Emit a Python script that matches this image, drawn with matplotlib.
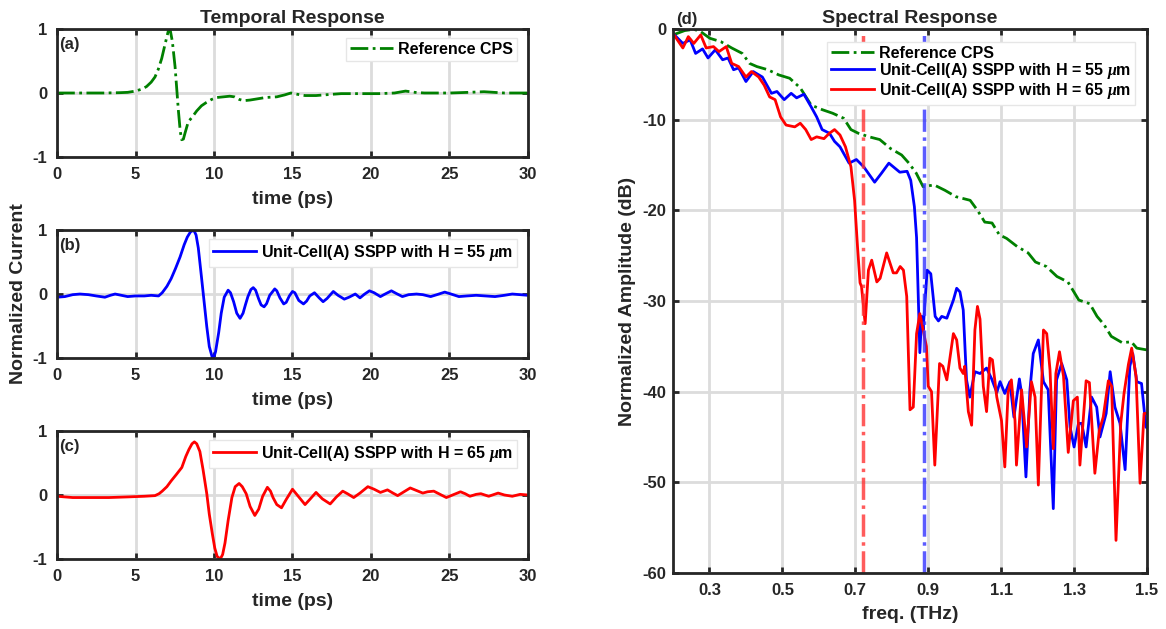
import numpy as np
import matplotlib
matplotlib.use('Agg')
import matplotlib.pyplot as plt

plt.rcParams['font.family'] = ['Liberation Sans', 'DejaVu Sans']
plt.rcParams['font.weight'] = 'bold'
plt.rcParams['axes.unicode_minus'] = False
plt.rcParams['mathtext.fontset'] = 'custom'
plt.rcParams['mathtext.it'] = 'Liberation Serif:italic:bold'

# ---- temporal data ----
t_ref = [0, 1, 2, 3, 4, 4.5, 5, 5.4, 5.7, 6.0, 6.24, 6.45, 6.67, 6.9, 7.09, 7.2, 7.35, 7.52, 7.73, 7.85,
         7.94, 8.05, 8.15, 8.36, 8.6, 8.9, 9.2, 9.5, 9.85, 10.2, 10.6, 11.0, 11.3, 11.6, 11.9, 12.3, 12.8,
         13.3, 14.0, 14.5, 14.9, 15.3, 15.8, 16.5, 17, 18.1, 19.2, 20.5, 21.5, 22.2, 22.8, 23.4, 25, 26.2,
         27.2, 28.5, 30]
i_ref = [0, 0, 0, 0, 0.005, 0.01, 0.03, 0.06, 0.1, 0.17, 0.25, 0.37, 0.54, 0.78, 0.97, 1.0, 0.8, 0.41, -0.27, -0.6,
         -0.73, -0.72, -0.63, -0.45, -0.38, -0.28, -0.2, -0.15, -0.1, -0.07, -0.06, -0.05, -0.06, -0.1, -0.12, -0.11, -0.09,
         -0.07, -0.06, -0.03, 0.0, -0.02, -0.04, -0.04, -0.03, -0.01, -0.01, -0.01, 0.0, 0.03, 0.01, 0.0, 0.0, 0.01,
         0.02, 0.0, 0.0]

t_55 = [0, 0.5, 1.0, 1.46, 2.0, 2.5, 3.05, 3.4, 3.7, 4.1, 4.5, 5.0, 5.56, 6.0, 6.47, 6.7, 7.0, 7.27, 7.55,
        7.84, 8.1, 8.3, 8.5, 8.63, 8.75, 8.86, 9.0, 9.2, 9.37, 9.54, 9.7, 9.89, 10.0, 10.1, 10.3, 10.46,
        10.65, 10.9, 11.05, 11.25, 11.45, 11.66, 11.85, 12.0, 12.16, 12.35, 12.5, 12.65, 12.85, 13.0, 13.19,
        13.35, 13.55, 13.87, 14.0, 14.2, 14.44, 14.6, 14.8, 15.0, 15.15, 15.4, 15.7, 15.9, 16.1, 16.4, 16.7,
        16.95, 17.2, 17.6, 17.9, 18.3, 18.6, 19.0, 19.3, 19.6, 19.9, 20.2, 20.6, 20.9, 21.3, 21.6, 22.0,
        22.4, 22.9, 23.3, 23.8, 24.2, 24.7, 25.1, 25.6, 26.1, 26.7, 27.3, 27.9, 28.5, 29.0, 29.5, 30]
i_55 = [-0.05, -0.04, -0.01, 0.0, -0.01, -0.03, -0.05, -0.02, 0.0, -0.02, -0.04, -0.03, -0.03, -0.02, -0.03, 0.02,
        0.12, 0.24, 0.4, 0.58, 0.77, 0.89, 0.97, 0.99, 0.98, 0.92, 0.72, 0.27, -0.12, -0.51, -0.82, -0.99, -0.98,
        -0.9, -0.6, -0.3, -0.05, 0.06, 0.02, -0.12, -0.3, -0.38, -0.3, -0.17, -0.04, 0.07, 0.1, 0.06, -0.08,
        -0.17, -0.2, -0.15, -0.02, 0.08, 0.05, -0.06, -0.155, -0.13, -0.03, 0.04, 0.02, -0.1, -0.155, -0.11,
        -0.03, 0.02, -0.06, -0.12, -0.07, 0.04, -0.02, -0.08, -0.05, 0.0, -0.06, 0.0, 0.05, 0.02, -0.04, 0.0,
        0.05, 0.01, -0.04, -0.01, 0.0, -0.01, -0.04, -0.01, 0.03, 0.0, -0.04, -0.03, -0.02, -0.03, -0.04, -0.02,
        0.0, -0.01, -0.02]

t_65 = [0, 0.5, 1.0, 2.0, 3.3, 4.5, 5.56, 6.24, 6.5, 6.7, 7.0, 7.27, 7.6, 7.95, 8.2, 8.4, 8.6, 8.75, 8.9,
        9.1, 9.3, 9.54, 9.7, 9.89, 10.05, 10.2, 10.4, 10.55, 10.7, 10.9, 11.14, 11.35, 11.6, 11.8, 12.05,
        12.3, 12.6, 12.85, 13.1, 13.4, 13.6, 13.76, 14.0, 14.3, 14.6, 15.0, 15.3, 15.8, 16.1, 16.5, 16.9,
        17.4, 17.8, 18.2, 18.5, 18.9, 19.3, 19.8, 20.2, 20.6, 21.05, 21.4, 21.7, 22.1, 22.5, 22.9, 23.3,
        23.6, 24.0, 24.4, 24.8, 25.2, 25.7, 26.0, 26.3, 26.7, 27.0, 27.5, 28.1, 28.5, 29.0, 29.5, 30]
i_65 = [-0.02, -0.03, -0.04, -0.04, -0.04, -0.03, -0.02, -0.01, 0.02, 0.06, 0.13, 0.22, 0.32, 0.43, 0.6, 0.71,
        0.8, 0.83, 0.8, 0.68, 0.4, 0.02, -0.3, -0.6, -0.83, -0.96, -1.0, -0.93, -0.75, -0.4, -0.04, 0.13, 0.18,
        0.13, 0.02, -0.18, -0.32, -0.22, -0.02, 0.12, 0.06, -0.04, -0.15, -0.2, -0.07, 0.09, 0.0, -0.15, -0.07,
        0.04, -0.06, -0.14, -0.03, 0.06, 0.02, -0.04, 0.03, 0.13, 0.09, 0.04, 0.08, 0.03, -0.01, 0.05, 0.11,
        0.07, 0.03, 0.05, 0.06, 0.01, -0.04, 0.0, 0.05, 0.02, -0.02, 0.01, 0.02, -0.02, 0.03, 0.0, -0.02, 0.01, 0.0]

# ---- spectral data ----
f_ref = [0.2, 0.232, 0.257, 0.276, 0.301, 0.331, 0.361, 0.39, 0.41, 0.43, 0.46, 0.49, 0.52, 0.549, 0.579,
         0.609, 0.638, 0.668, 0.688, 0.708, 0.738, 0.767, 0.797, 0.827, 0.847, 0.867, 0.886, 0.916, 0.946,
         0.976, 1.015, 1.035, 1.055, 1.075, 1.095, 1.115, 1.144, 1.174, 1.194, 1.224, 1.253, 1.283, 1.313,
         1.343, 1.363, 1.382, 1.402, 1.432, 1.457, 1.472, 1.5]
a_ref = [-0.66, -0.18, -0.04, -0.3, -1.03, -1.4, -2.1, -2.7, -3.8, -4.15, -4.5, -5.07, -5.44, -6.5, -8.4,
         -8.9, -9.3, -9.85, -11.1, -11.5, -11.9, -12.2, -13.2, -13.9, -14.8, -15.9, -17.4, -17.2, -17.8,
         -18.5, -18.9, -20.0, -21.3, -21.4, -22.7, -23.1, -24.0, -24.7, -25.7, -26.2, -27.3, -27.9, -29.9,
         -30.3, -31.7, -32.6, -33.9, -34.6, -34.5, -35.2, -35.4]

f_55 = [0.2, 0.227, 0.247, 0.262, 0.281, 0.296, 0.316, 0.336, 0.351, 0.366, 0.38, 0.4, 0.42, 0.445, 0.47,
        0.485, 0.505, 0.524, 0.539, 0.559, 0.579, 0.594, 0.609, 0.629, 0.643, 0.658, 0.683, 0.703, 0.723,
        0.753, 0.772, 0.792, 0.822, 0.842, 0.852, 0.862, 0.868, 0.873, 0.877, 0.882, 0.886, 0.897, 0.907,
        0.919, 0.928, 0.937, 0.951, 0.969, 0.978, 0.987, 0.996, 1.005, 1.014, 1.028, 1.042, 1.06, 1.074,
        1.088, 1.097, 1.11, 1.124, 1.135, 1.15, 1.156, 1.168, 1.179, 1.188, 1.202, 1.216, 1.229, 1.243,
        1.252, 1.266, 1.28, 1.289, 1.3, 1.312, 1.321, 1.333, 1.348, 1.362, 1.371, 1.388, 1.399, 1.412,
        1.426, 1.44, 1.453, 1.461, 1.472, 1.485, 1.497, 1.5]
a_55 = [-0.5, -1.6, -1.2, -2.7, -2.2, -3.2, -2.3, -3.4, -3.2, -4.5, -4.3, -5.8, -4.7, -5.3, -7.1,
        -6.9, -7.8, -7.1, -7.6, -7.2, -8.6, -9.7, -11.1, -11.5, -12.4, -13.0, -14.8, -14.4, -15.2,
        -16.9, -15.9, -14.8, -15.8, -15.7, -16.7, -19.6, -23.0, -30.0, -35.7, -31.7, -33.2, -26.6, -27.0,
        -31.7, -32.2, -31.7, -31.9, -29.9, -28.6, -29.0, -31.0, -38.7, -40.6, -37.8, -38.0, -37.4, -38.6,
        -40.1, -38.9, -40.2, -38.9, -42.8, -38.6, -40.2, -49.4, -39.8, -35.8, -34.3, -38.9, -39.8, -52.9,
        -38.7, -36.9, -38.7, -43.9, -46.1, -43.5, -43.5, -46.1, -40.6, -41.7, -45.0, -42.4, -37.8, -41.7,
        -43.5, -48.6, -37.2, -35.8, -38.9, -39.1, -43.9, -44.0]

f_65 = [0.2, 0.227, 0.242, 0.257, 0.276, 0.291, 0.311, 0.326, 0.346, 0.361, 0.38, 0.4, 0.415, 0.435, 0.45,
        0.465, 0.48, 0.495, 0.51, 0.534, 0.549, 0.564, 0.579, 0.594, 0.614, 0.629, 0.643, 0.658, 0.673,
        0.688, 0.698, 0.706, 0.713, 0.717, 0.727, 0.736, 0.745, 0.759, 0.768, 0.786, 0.804, 0.813, 0.823,
        0.832, 0.841, 0.85, 0.859, 0.868, 0.877, 0.886, 0.895, 0.9, 0.909, 0.918, 0.931, 0.94, 0.951,
        0.969, 0.978, 0.987, 0.996, 1.0, 1.01, 1.019, 1.028, 1.035, 1.042, 1.051, 1.06, 1.069, 1.076,
        1.088, 1.101, 1.11, 1.119, 1.128, 1.138, 1.142, 1.156, 1.17, 1.183, 1.193, 1.202, 1.216, 1.225,
        1.234, 1.243, 1.25, 1.26, 1.271, 1.284, 1.298, 1.309, 1.316, 1.333, 1.342, 1.357, 1.369, 1.38,
        1.394, 1.403, 1.415, 1.428, 1.437, 1.449, 1.458, 1.47, 1.481, 1.492, 1.5]
a_65 = [-0.5, -2.1, -0.85, -1.6, -0.66, -2.1, -1.95, -2.5, -1.95, -3.8, -4.15, -5.3, -4.7, -5.3, -6.2,
        -7.5, -7.8, -9.7, -10.6, -10.8, -10.4, -11.1, -12.2, -11.9, -12.1, -11.5, -11.1, -11.7, -13.0,
        -15.2, -18.9, -24.0, -28.0, -28.4, -32.5, -26.6, -25.5, -27.9, -27.5, -24.7, -26.9, -26.9, -26.2,
        -26.6, -29.5, -42.0, -41.7, -33.6, -31.4, -33.2, -35.0, -39.4, -40.0, -48.1, -36.9, -37.2, -38.7,
        -33.6, -34.3, -37.4, -38.0, -37.2, -42.2, -43.7, -33.2, -30.6, -32.0, -39.4, -42.2, -36.3, -36.5,
        -40.6, -43.2, -48.3, -40.1, -38.7, -43.2, -48.1, -39.8, -46.1, -38.9, -40.6, -50.3, -33.2, -33.6,
        -37.6, -46.3, -38.0, -35.6, -38.3, -46.7, -41.0, -40.6, -48.1, -38.8, -39.0, -49.0, -44.3, -42.8,
        -38.8, -39.4, -56.4, -43.5, -40.2, -37.0, -35.2, -38.3, -50.1, -42.4, -42.4]

cutoff_freqs = [0.722, 0.888]
cutoff_colors = ['#ff3333', '#3333ff']

labels = ['Reference CPS', r'Unit-Cell(A) SSPP with H = 55 $\mu$m', r'Unit-Cell(A) SSPP with H = 65 $\mu$m']
colors = ['#008000', '#0000ff', '#ff0000']
styles = ['-.', '-', '-']

TICK_FS = 12
LABEL_FS = 14
TITLE_FS = 14
LEG_FS = 11.5
INK = '#262626'


def style_axes(ax, ypad):
    for s in ax.spines.values():
        s.set_linewidth(2)
        s.set_color(INK)
    ax.tick_params(direction='in', top=True, right=True, width=2, length=4,
                   labelsize=TICK_FS, colors=INK)
    ax.tick_params(axis='x', pad=7.5)
    ax.tick_params(axis='y', pad=ypad)
    for lab in ax.get_xticklabels() + ax.get_yticklabels():
        lab.set_fontweight('bold')
    ax.grid(True, color='#dcdcdc', linewidth=2)
    ax.set_axisbelow(True)


def add_legend(ax, anchor):
    ax.legend(loc='upper right', bbox_to_anchor=anchor, borderaxespad=0, fontsize=LEG_FS,
              handlelength=2.7, handletextpad=0.3, labelspacing=0.0, fancybox=False,
              framealpha=1, edgecolor='#e6e6e6', borderpad=0.25)


fig = plt.figure(figsize=(11.66, 6.29), dpi=100)

left_pos = [[0.0489, 0.7504, 0.4039, 0.2035],
            [0.0489, 0.4308, 0.4039, 0.2035],
            [0.0489, 0.1113, 0.4039, 0.2035]]
t_data = [(t_ref, i_ref), (t_55, i_55), (t_65, i_65)]
tags = ['(a)', '(b)', '(c)']

for k in range(3):
    ax = fig.add_axes(left_pos[k])
    ax.plot(t_data[k][0], t_data[k][1], styles[k], color=colors[k], lw=2, label=labels[k])
    ax.set_xlim(0, 30)
    ax.set_ylim(-1, 1)
    ax.set_xticks(range(0, 31, 5))
    ax.set_yticks([-1, 0, 1])
    style_axes(ax, 7)
    ax.set_xlabel('time (ps)', fontsize=LABEL_FS, fontweight='bold', color=INK)
    ax.xaxis.set_label_coords(0.5, -0.265)
    ax.text(0.005, 0.88, tags[k], transform=ax.transAxes, fontsize=TICK_FS, fontweight='bold',
            va='center', color=INK)
    add_legend(ax, (0.977, 0.93))
    if k == 0:
        ax.set_title('Temporal Response', fontsize=TITLE_FS, fontweight='bold', pad=4, color=INK)
    if k == 1:
        ax.set_ylabel('Normalized Current', fontsize=LABEL_FS, fontweight='bold', color=INK)
        ax.yaxis.set_label_coords(-0.064, 0.5)

ax = fig.add_axes([0.5772, 0.089, 0.4065, 0.865])
ax.plot(f_ref, a_ref, styles[0], color=colors[0], lw=2, label=labels[0])
ax.plot(f_55, a_55, styles[1], color=colors[1], lw=2, label=labels[1])
ax.plot(f_65, a_65, styles[2], color=colors[2], lw=2, label=labels[2])
for fc, cc in zip(cutoff_freqs, cutoff_colors):
    ax.axvline(fc, color=cc, ls='-.', lw=2.5, alpha=0.8)
ax.set_xlim(0.2, 1.5)
ax.set_ylim(-60, 0)
ax.set_xticks([0.3, 0.5, 0.7, 0.9, 1.1, 1.3, 1.5])
ax.set_xticklabels(['0.3', '0.5', '0.7', '0.9', '1.1', '1.3', '1.5'])
ax.set_yticks(range(-60, 1, 10))
style_axes(ax, 5)
ax.set_xlabel('freq. (THz)', fontsize=LABEL_FS, fontweight='bold', color=INK)
ax.xaxis.set_label_coords(0.5, -0.06)
ax.set_ylabel('Normalized Amplitude (dB)', fontsize=LABEL_FS, fontweight='bold', color=INK)
ax.yaxis.set_label_coords(-0.078, 0.5)
ax.set_title('Spectral Response', fontsize=TITLE_FS, fontweight='bold', pad=4, color=INK)
ax.text(0.006, 1.004, '(d)', transform=ax.transAxes, fontsize=TICK_FS, fontweight='bold',
        va='bottom', color=INK)
add_legend(ax, (0.975, 0.976))

fig.savefig('out.png', dpi=100)
